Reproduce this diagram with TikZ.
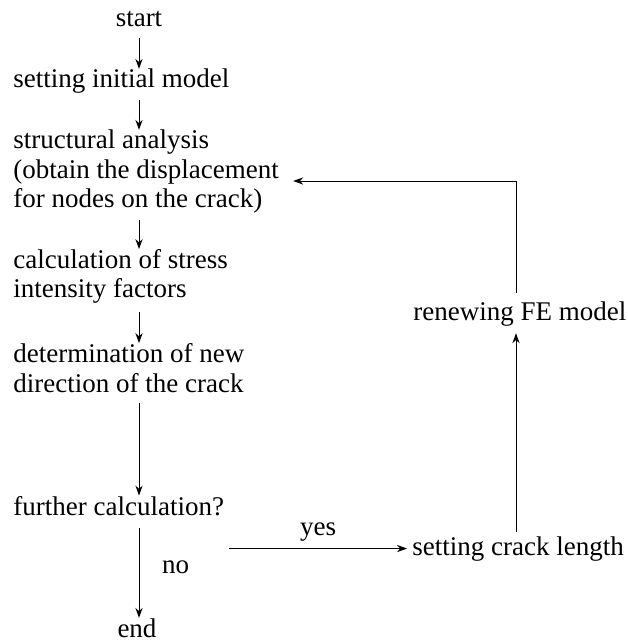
\documentclass[tikz,border=0pt]{standalone}
\usepackage{fontspec}
\setmainfont{Liberation Serif}
\usetikzlibrary{arrows.meta,positioning,calc}
\tikzstyle{arrow} = [line width=0.5pt,->,>={Stealth[length=5pt,width=3.6pt]}]
\tikzstyle{flowtext} = [inner sep=0pt, anchor=base west, align=left, font=\fontsize{13.5}{14.75}\selectfont]
\tikzstyle{flowlabel} = [font=\fontsize{13.5}{14.75}\selectfont]

\begin{document}
\begin{tikzpicture}[x=0.5pt, y=-0.5pt]
\useasboundingbox (0,0) rectangle (627,640);
% column of the main loop
\coordinate (col) at (139,0);
\coordinate (fb) at (516,0);

% main steps (multi-line nodes sit on their last line)
\node[flowtext, anchor=base] (start) at (139,27) {start};
\node[flowtext] (init) at (13,88) {setting initial model};
\node[flowtext] (struct) at (13,208) {structural analysis\\(obtain the displacement\\for nodes on the crack)};
\node[flowtext] (sif) at (13,298) {calculation of stress\\intensity factors};
\node[flowtext] (dir) at (13,392) {determination of new\\direction of the crack};
\node[flowtext] (further) at (13,515) {further calculation?};
\node[flowtext, anchor=base] (end) at (137,637) {end};

% feedback branch
\node[flowtext] (crack) at (412,555) {setting crack length};
\node[flowtext] (renew) at (413,320) {renewing FE model};

% arrows down the column
\draw[arrow, shorten <=5pt] (start.south -| col) -- (init.north -| col);
\draw[arrow, shorten <=3pt] (init.south -| col) -- (struct.north -| col);
\draw[arrow, shorten <=3pt] (struct.south -| col) -- (sif.north -| col);
\draw[arrow, shorten <=4pt] (sif.south -| col) -- (dir.north -| col);
\draw[arrow, shorten <=5pt] (dir.south -| col) -- (further.north -| col);
\draw[arrow, shorten <=6pt] (further.south -| col) -- node[right=8pt, flowlabel] {no} (end.north -| col);

% loop back
\draw[arrow, shorten <=2.5pt, shorten >=2.5pt] (further.east |- crack.west) -- node[above, flowlabel] {yes} (crack.west);
\draw[arrow, shorten <=2pt, shorten >=3.5pt] (crack.north -| fb) -- (renew.south -| fb);
\draw[arrow, shorten <=4pt, shorten >=7pt] (renew.north -| fb) |- ([yshift=-4.5pt]struct.east);
\end{tikzpicture}
\end{document}
